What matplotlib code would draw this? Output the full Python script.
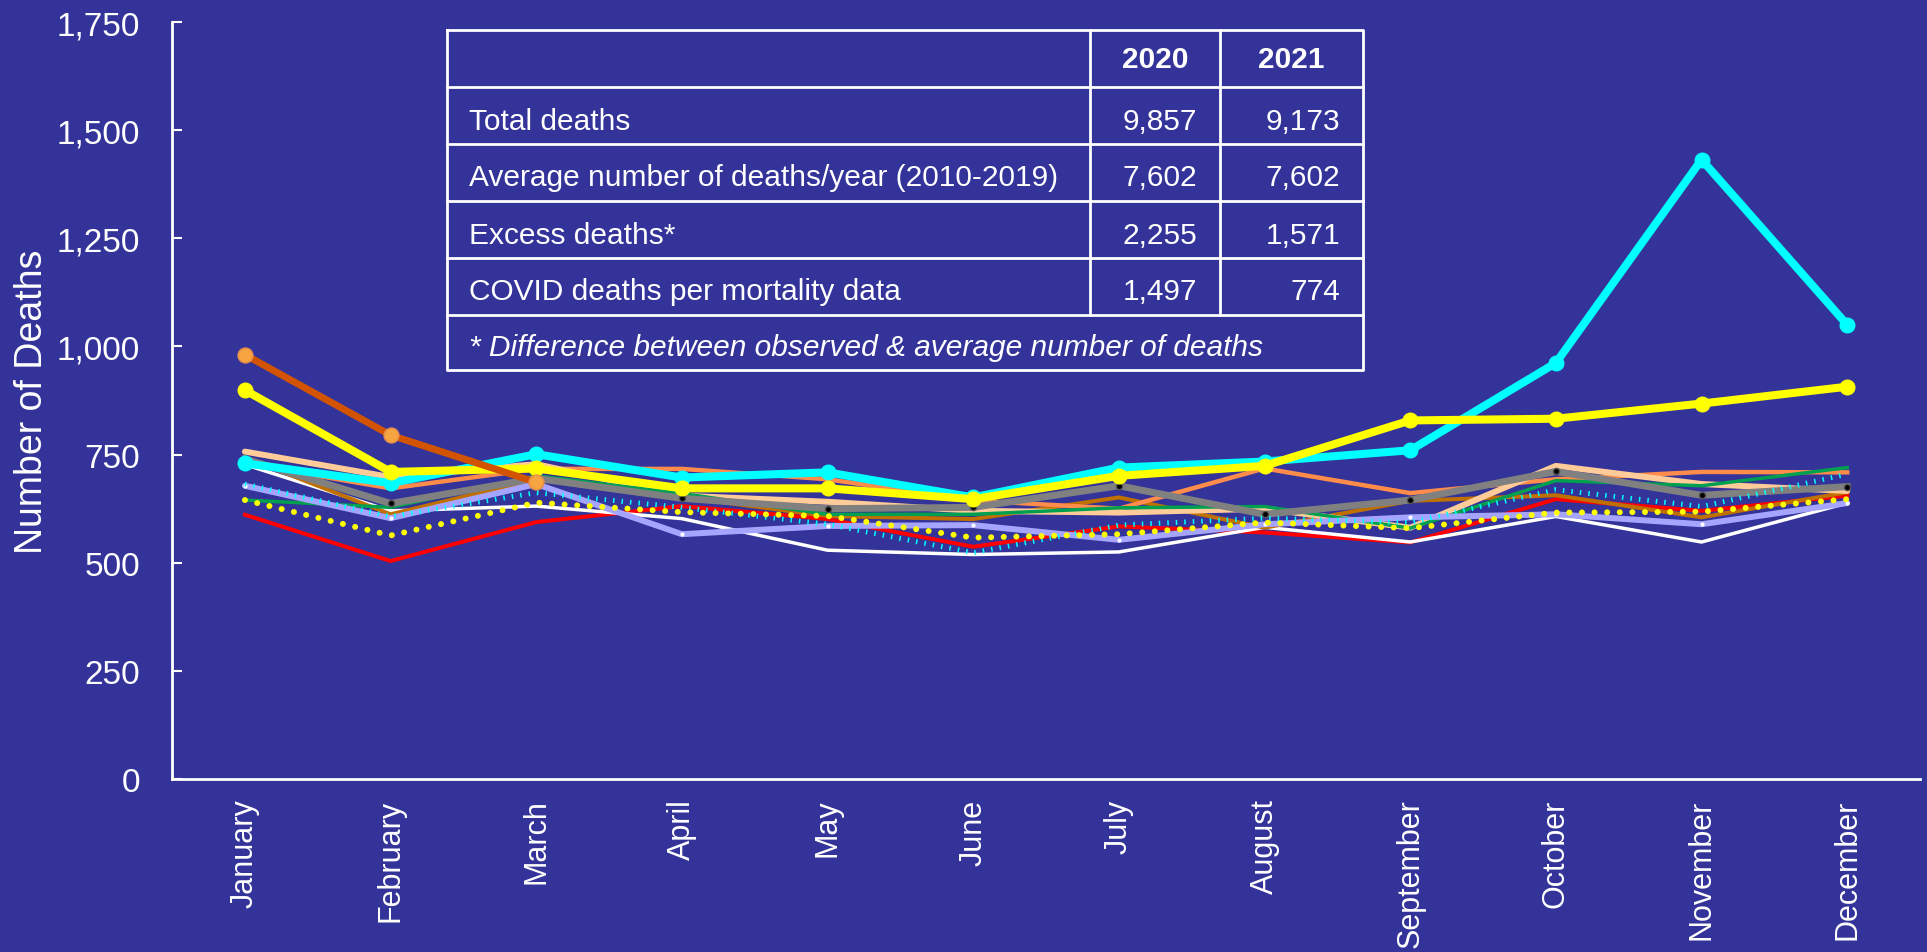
import matplotlib
matplotlib.use("Agg")
import matplotlib.pyplot as plt
import numpy as np
from matplotlib.ticker import FuncFormatter

plt.rcParams['font.family'] = ['Liberation Sans', 'DejaVu Sans']

BG = "#333399"

months = ["January", "February", "March", "April", "May", "June", "July",
          "August", "September", "October", "November", "December"]

# monthly deaths, 2010-2019 (thin lines)
red_line = [611, 504, 594, 631, 601, 537, 584, 570, 547, 647, 620, 655]
white_line = [727, 620, 631, 602, 529, 519, 525, 582, 548, 607, 548, 638]
brown_line = [744, 612, 693, 652, 608, 601, 651, 581, 643, 656, 605, 663]
coral_line = [730, 672, 717, 717, 693, 644, 625, 718, 661, 693, 710, 709]
peach_line = [757, 698, 728, 655, 641, 620, 616, 625, 581, 724, 682, 666]
green_line = [645, 628, 701, 660, 612, 612, 627, 630, 580, 690, 678, 720]
gray_line = [740, 637, 695, 649, 625, 628, 678, 612, 645, 711, 656, 676]
lavender_line = [678, 603, 682, 566, 585, 587, 553, 589, 605, 612, 589, 638]
cyan_dot_line = [682, 607, 662, 628, 589, 523, 587, 603, 593, 669, 630, 705]
yellow_dot_line = [645, 563, 639, 617, 608, 558, 566, 593, 580, 616, 618, 647]

# 2020, 2021, 2022
deaths_2020 = [730, 684, 751, 697, 709, 651, 720, 734, 760, 962, 1432, 1050]
deaths_2021 = [899, 710, 718, 672, 672, 647, 701, 724, 829, 833, 868, 907]
deaths_2022 = [981, 795, 686] + [np.nan] * 9

y_ticks = [0, 250, 500, 750, 1000, 1250, 1500, 1750]

table_head = ["", "2020", "2021"]
table_labels = ["Total deaths", "Average number of deaths/year (2010-2019)",
                "Excess deaths*", "COVID deaths per mortality data"]
table_2020 = ["9,857", "7,602", "2,255", "1,497"]
table_2021 = ["9,173", "7,602", "1,571", "774"]
table_note = "* Difference between observed & average number of deaths"

fig = plt.figure(figsize=(19.27, 9.53), dpi=100, facecolor=BG)
ax = fig.add_axes([0.0893, 0.1815, 0.9071, 0.7943])
ax.set_facecolor(BG)

x = np.arange(len(months))

ax.plot(x, red_line, color="#ff0000", lw=2.9)
ax.plot(x, white_line, color="white", lw=2.5)
ax.plot(x, brown_line, color="#c07000", lw=2.9)
ax.plot(x, coral_line, color="#ff8c4a", lw=3.2)
ax.plot(x, peach_line, color="#ffcc99", lw=4.3, solid_capstyle="round")
ax.plot(x, green_line, color="#00a050", lw=2.5)
ax.plot(x, gray_line, color="#808080", lw=5, marker="o", ms=4.5,
        mfc="black", mec="#555555", mew=1)
ax.plot(x, lavender_line, color="#a5a5ff", lw=4.3, marker="o", ms=2,
        mfc="white", mec="white", solid_capstyle="round")
ax.plot(x, cyan_dot_line, color="#00ffff", lw=3.6, linestyle=(0, (0.3, 1.4)),
        dash_capstyle="butt")
ax.plot(x, yellow_dot_line, color="#ffff00", lw=4.3, linestyle=(0, (0.01, 2.1)),
        dash_capstyle="round")

ax.plot(x, deaths_2020, color="#00ffff", lw=5.8, marker="o", ms=10.5,
        solid_capstyle="round")
ax.plot(x, deaths_2021, color="#ffff00", lw=5.8, marker="o", ms=10.5,
        solid_capstyle="round")
ax.plot(x, deaths_2022, color="#d35400", lw=5, marker="o", ms=10.5,
        mfc="#f7a540", mec="#e8904a", mew=1.2)

ax.set_xlim(-0.5, 11.5)
ax.set_ylim(0, 1750)
ax.set_yticks(y_ticks)
ax.yaxis.set_major_formatter(FuncFormatter(lambda v, p: f"{int(v):,}"))
ax.set_xticks(x)
ax.set_xticklabels(months, rotation=90, fontsize=22, color="white")

for s in ["top", "right"]:
    ax.spines[s].set_visible(False)
for s in ["left", "bottom"]:
    ax.spines[s].set_color("white")
    ax.spines[s].set_linewidth(2)

ax.tick_params(axis="y", direction="in", length=7, width=1.5, colors="white",
               labelsize=24, pad=23)
ax.tick_params(axis="x", length=0, pad=14, colors="white")
ax.set_ylabel("Number of Deaths", fontsize=27, color="white")
ax.yaxis.set_label_coords(-0.070, 0.5)

# table drawn in pixel space
tab = fig.add_axes([0, 0, 1, 1])
tab.set_xlim(0, 1927)
tab.set_ylim(953, 0)
tab.axis("off")

left, right, top, bottom = 447, 1363, 31, 371
c1, c2 = 1090, 1220
row_y = [31, 88, 145, 202, 259, 316, 371]
lc = dict(color="white", lw=2)
tab.plot([left, right, right, left, left], [top, top, bottom, bottom, top], **lc)
for yy in row_y[1:-1]:
    tab.plot([left, right], [yy, yy], **lc)
for cx in (c1, c2):
    tab.plot([cx, cx], [top, row_y[5]], **lc)

fs = 21.5
tab.text((c1 + c2) / 2, (row_y[0] + row_y[1]) / 2 + 1, table_head[1], ha="center",
         va="center", fontsize=fs, color="white", fontweight="bold")
tab.text((c2 + right) / 2, (row_y[0] + row_y[1]) / 2 + 1, table_head[2], ha="center",
         va="center", fontsize=fs, color="white", fontweight="bold")
for i, lab in enumerate(table_labels):
    yc = (row_y[i + 1] + row_y[i + 2]) / 2 + 5
    tab.text(469, yc, lab, ha="left", va="center", fontsize=fs, color="white")
    tab.text(1197, yc, table_2020[i], ha="right", va="center", fontsize=fs, color="white")
    tab.text(1340, yc, table_2021[i], ha="right", va="center", fontsize=fs, color="white")
tab.text(469, (row_y[5] + row_y[6]) / 2 + 5, table_note, ha="left", va="center",
         fontsize=fs, color="white", style="italic")

fig.savefig("out.png", dpi=100, facecolor=BG)
